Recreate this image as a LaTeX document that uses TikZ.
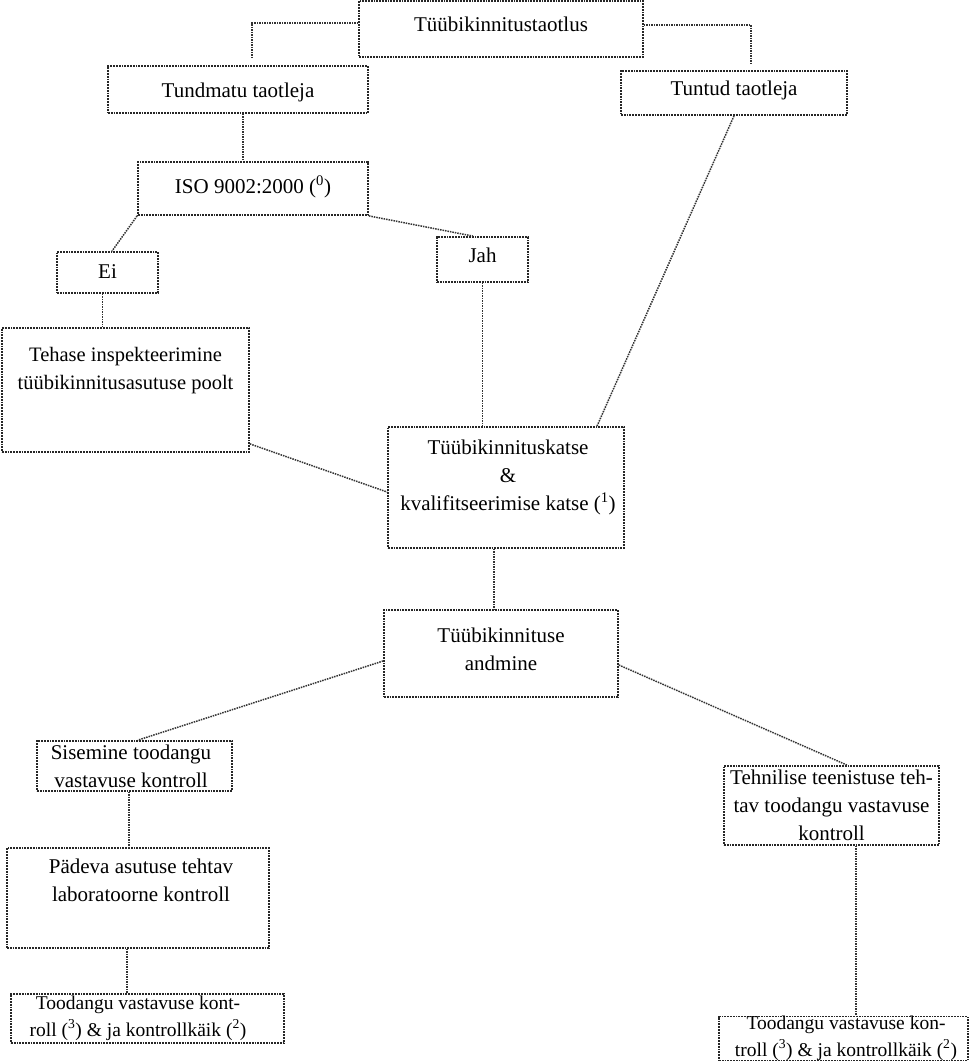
\documentclass[tikz,border=0pt]{standalone}
\usepackage{fontspec}
\setmainfont{Liberation Serif}
\begin{document}
\begin{tikzpicture}[x=1pt,y=-1pt,
  box/.style={draw=black!85, densely dotted, line width=1.8pt, rectangle, inner sep=0pt},
  txt/.style={inner sep=0pt, align=center, font=\fontsize{21}{28}\selectfont},
  smalltxt/.style={txt, font=\fontsize{19.5}{27}\selectfont},
  midtxt/.style={txt, font=\fontsize{20.5}{28}\selectfont},
  conn/.style={draw=black!80, densely dotted, line width=1.5pt}]
\useasboundingbox (0,0) rectangle (970,1062);
% boxes
\node[box, minimum width=284pt, minimum height=56pt] (top) at (501,29) {};
\node[box, minimum width=260pt, minimum height=47pt] (tund) at (238,89.5) {};
\node[box, minimum width=226pt, minimum height=44pt] (tuntud) at (734,93) {};
\node[box, minimum width=230pt, minimum height=53pt] (iso) at (253,188.5) {};
\node[box, minimum width=101pt, minimum height=41pt] (ei) at (107.5,272.5) {};
\node[box, minimum width=91pt, minimum height=45pt] (jah) at (482.5,259.5) {};
\node[box, minimum width=247pt, minimum height=124pt] (tehase) at (125.5,390) {};
\node[box, minimum width=236pt, minimum height=121pt] (katse) at (506,487.5) {};
\node[box, minimum width=234pt, minimum height=87pt] (andmine) at (501,653.5) {};
\node[box, minimum width=195pt, minimum height=50pt] (sisemine) at (134.5,766) {};
\node[box, minimum width=215pt, minimum height=79pt] (tehnilise) at (831.5,805.5) {};
\node[box, minimum width=262pt, minimum height=100pt] (padeva) at (138,898) {};
\node[box, minimum width=273pt, minimum height=49pt] (toodL) at (147.5,1018.5) {};
\node[box, minimum width=249pt, minimum height=44pt] (toodR) at (843.5,1038.5) {};
% texts
\node[txt] (top-t) at (501,24) {Tüübikinnitustaotlus};
\node[txt] (tund-t) at (238,92) {Tundmatu taotleja};
\node[txt] (tuntud-t) at (734,90) {Tuntud taotleja};
\node[txt] (iso-t) at (253,187) {ISO 9002:2000 (\textsuperscript{0})};
\node[txt] (ei-t) at (107.5,272) {Ei};
\node[txt] (jah-t) at (482.5,255) {Jah};
\node[midtxt] (tehase-t) at (125.5,371) {Tehase inspekteerimine\\tüübikinnitusasutuse poolt};
\node[txt] (katse-t) at (508,477) {Tüübikinnituskatse\\\&\\kvalifitseerimise katse (\textsuperscript{1})};
\node[txt] (andmine-t) at (501,649) {Tüübikinnituse\\andmine};
\node[txt] (sisemine-t) at (131,766) {Sisemine toodangu\\vastavuse kontroll};
\node[txt] (tehnilise-t) at (831.5,805) {Tehnilise teenistuse teh-\\tav toodangu vastavuse\\kontroll};
\node[txt] (padeva-t) at (141,880) {Pädeva asutuse tehtav\\laboratoorne kontroll};
\node[smalltxt] (toodL-t) at (138,1018) {Toodangu vastavuse kont-\\roll (\textsuperscript{3}) \& ja kontrollkäik (\textsuperscript{2})};
\node[smalltxt] (toodR-t) at (846,1038) {Toodangu vastavuse kon-\\troll (\textsuperscript{3}) \& ja kontrollkäik (\textsuperscript{2})};
% connectors
\draw[conn] ([yshift=6pt]top.west) -| ([xshift=14pt,yshift=6pt]tund.north);
\draw[conn] ([yshift=4pt]top.east) -| ([xshift=17pt,yshift=5pt]tuntud.north);
\draw[conn] ([xshift=5pt]tund.south) -- ([xshift=5pt]tund.south |- iso.north);
\draw[conn] (iso.south west) -- ([xshift=4.5pt]ei.north);
\draw[conn] (iso.south east) -- ([xshift=-9.5pt]jah.north);
\draw[conn] ([xshift=-5pt]ei.south) -- ([xshift=-5pt]ei.south |- tehase.north);
\draw[conn] (jah.south) -- (jah.south |- katse.north);
\draw[conn] (tuntud.south) -- ([xshift=91pt]katse.north);
\draw[conn] ([yshift=9pt]tehase.south east) -- ([yshift=-4.5pt]katse.west);
\draw[conn] ([xshift=-12pt]katse.south) -- ([xshift=-12pt]katse.south |- andmine.north);
\draw[conn] ([yshift=-7.5pt]andmine.west) -- ([xshift=3.5pt]sisemine.north);
\draw[conn] ([yshift=-11.5pt]andmine.east) -- ([xshift=15.5pt]tehnilise.north);
\draw[conn] ([xshift=-5.5pt]sisemine.south) -- ([xshift=-5.5pt]sisemine.south |- padeva.north);
\draw[conn] ([xshift=-11pt]padeva.south) -- ([xshift=-11pt]padeva.south |- toodL.north);
\draw[conn] ([xshift=24.5pt]tehnilise.south) -- ([xshift=24.5pt]tehnilise.south |- toodR.north);
\end{tikzpicture}
\end{document}
